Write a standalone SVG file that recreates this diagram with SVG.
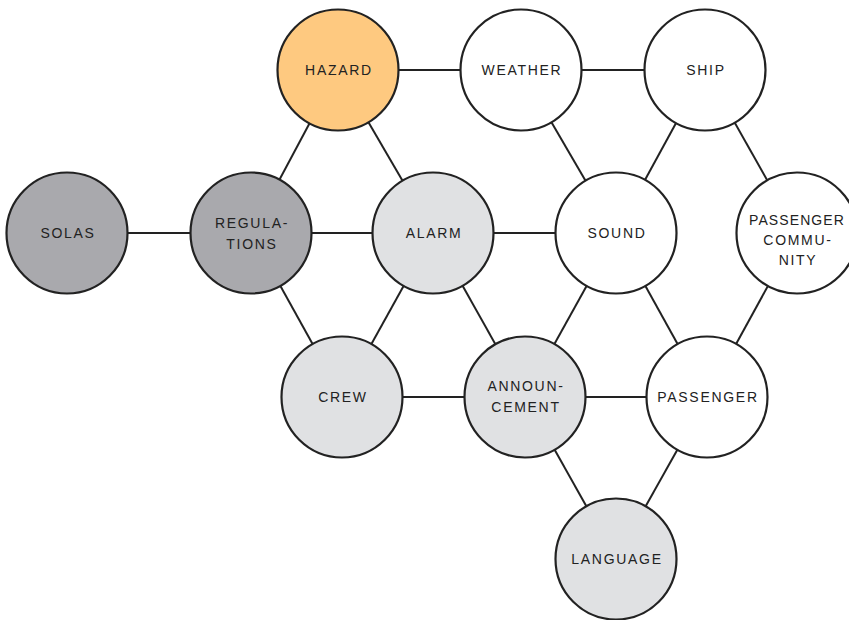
<svg xmlns="http://www.w3.org/2000/svg" width="849" height="620" viewBox="0 0 849 620">
  <style>
    .edge { stroke: #222; stroke-width: 2; fill: none; }
    .node circle { stroke: #222; stroke-width: 2.2; }
    .white { fill: #ffffff; }
    .light { fill: #e0e1e3; }
    .dark { fill: #a9a9ad; }
    .hazard { fill: #fec980; }
    .node text { font-family: "Liberation Sans", Arial, sans-serif; font-size: 14px; letter-spacing: 1.7px; fill: #222; text-anchor: middle; }
    .node text.tight { letter-spacing: 1.1px; }
  </style>
  <rect width="849" height="620" fill="#ffffff"/>
  <g id="connectors">
    <line class="edge" x1="338" y1="70" x2="521" y2="70"/>
    <line class="edge" x1="521" y1="70" x2="705" y2="70"/>
    <line class="edge" x1="338" y1="70" x2="251" y2="233"/>
    <line class="edge" x1="338" y1="70" x2="433" y2="233"/>
    <line class="edge" x1="521" y1="70" x2="616" y2="233"/>
    <line class="edge" x1="705" y1="70" x2="616" y2="233"/>
    <line class="edge" x1="705" y1="70" x2="797" y2="233"/>
    <line class="edge" x1="67" y1="233" x2="251" y2="233"/>
    <line class="edge" x1="251" y1="233" x2="433" y2="233"/>
    <line class="edge" x1="433" y1="233" x2="616" y2="233"/>
    <line class="edge" x1="251" y1="233" x2="342" y2="397"/>
    <line class="edge" x1="433" y1="233" x2="342" y2="397"/>
    <line class="edge" x1="433" y1="233" x2="525" y2="397"/>
    <line class="edge" x1="616" y1="233" x2="525" y2="397"/>
    <line class="edge" x1="616" y1="233" x2="707" y2="397"/>
    <line class="edge" x1="797" y1="233" x2="707" y2="397"/>
    <line class="edge" x1="342" y1="397" x2="525" y2="397"/>
    <line class="edge" x1="525" y1="397" x2="707" y2="397"/>
    <line class="edge" x1="525" y1="397" x2="616" y2="559"/>
    <line class="edge" x1="707" y1="397" x2="616" y2="559"/>
  </g>
  <g id="hazard" class="node">
    <circle class="hazard" cx="338" cy="70" r="60.5"/>
    <text x="339" y="75">HAZARD</text>
  </g>
  <g id="weather" class="node">
    <circle class="white" cx="521" cy="70" r="60.5"/>
    <text x="522" y="75">WEATHER</text>
  </g>
  <g id="ship" class="node">
    <circle class="white" cx="705" cy="70" r="60.5"/>
    <text x="706" y="75">SHIP</text>
  </g>
  <g id="solas" class="node">
    <circle class="dark" cx="67" cy="233" r="60.5"/>
    <text x="68" y="238">SOLAS</text>
  </g>
  <g id="regulations" class="node">
    <circle class="dark" cx="251" cy="233" r="60.5"/>
    <text x="252" y="228">REGULA-</text>
    <text x="252" y="249">TIONS</text>
  </g>
  <g id="alarm" class="node">
    <circle class="light" cx="433" cy="233" r="60.5"/>
    <text x="434" y="238">ALARM</text>
  </g>
  <g id="sound" class="node">
    <circle class="white" cx="616" cy="233" r="60.5"/>
    <text x="617" y="238">SOUND</text>
  </g>
  <g id="passenger-community" class="node">
    <circle class="white" cx="797" cy="233" r="60.5"/>
    <text class="tight" x="797" y="225">PASSENGER</text>
    <text x="798" y="245">COMMU-</text>
    <text x="798" y="265">NITY</text>
  </g>
  <g id="crew" class="node">
    <circle class="light" cx="342" cy="397" r="60.5"/>
    <text x="343" y="402">CREW</text>
  </g>
  <g id="announcement" class="node">
    <circle class="light" cx="525" cy="397" r="60.5"/>
    <text x="526" y="391">ANNOUN-</text>
    <text x="526" y="412">CEMENT</text>
  </g>
  <g id="passenger" class="node">
    <circle class="white" cx="707" cy="397" r="60.5"/>
    <text x="708" y="402">PASSENGER</text>
  </g>
  <g id="language" class="node">
    <circle class="light" cx="616" cy="559" r="60.5"/>
    <text x="617" y="564">LANGUAGE</text>
  </g>
</svg>
